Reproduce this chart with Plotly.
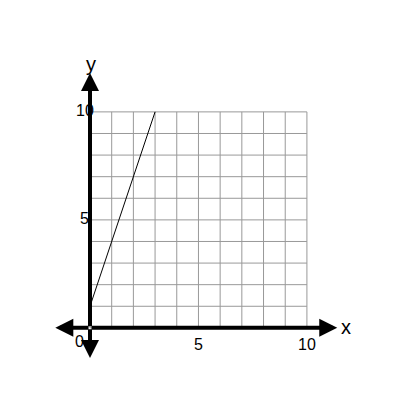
import plotly.graph_objects as go

line_x = [0, 3]
line_y = [1, 10]
grid_vals = list(range(0, 11))
x_tick_vals = [5, 10]
x_tick_text = ["5", "10"]
y_tick_vals = [5, 10]
y_tick_text = ["5", "10"]

fig = go.Figure()
shapes = []
for v in grid_vals:
    shapes.append(dict(type="line", x0=v, x1=v, y0=0, y1=10, line=dict(color="#999", width=1), layer="below"))
    shapes.append(dict(type="line", x0=0, x1=10, y0=v, y1=v, line=dict(color="#999", width=1), layer="below"))

fig.add_trace(go.Scatter(x=line_x, y=line_y, mode="lines", line=dict(color="black", width=1), showlegend=False))

ann = []
def arrow(x, y, ax, ay):
    ann.append(dict(x=x, y=y, ax=ax, ay=ay, xref="x", yref="y", axref="x", ayref="y",
                    showarrow=True, arrowhead=2, arrowsize=0.9, arrowwidth=4, arrowcolor="black", text=""))
arrow(11.4, 0, 0, 0)
arrow(-1.6, 0, 0, 0)
arrow(0, 11.8, 0, 0)
arrow(0, -1.4, 0, 0)

def lab(x, y, t, size=16):
    ann.append(dict(x=x, y=y, xref="x", yref="y", text=t, showarrow=False, font=dict(size=size, color="black", family="Liberation Sans")))
lab(11.8, 0.05, "x", 20)
lab(0.05, 12.2, "y", 20)
lab(-0.5, -0.65, "0")
for v, t in zip(x_tick_vals, x_tick_text):
    lab(v, -0.75, t)
for v, t in zip(y_tick_vals, y_tick_text):
    lab(-0.25, v + 0.05, t)

fig.update_layout(
    width=400, height=400, margin=dict(l=0, r=0, t=0, b=0),
    plot_bgcolor="white", paper_bgcolor="white",
    xaxis=dict(range=[-3.78, 14.66], visible=False, fixedrange=True),
    yaxis=dict(range=[-3.71, 14.81], visible=False, fixedrange=True),
    shapes=shapes, annotations=ann,
)
fig.write_html("out.html")
